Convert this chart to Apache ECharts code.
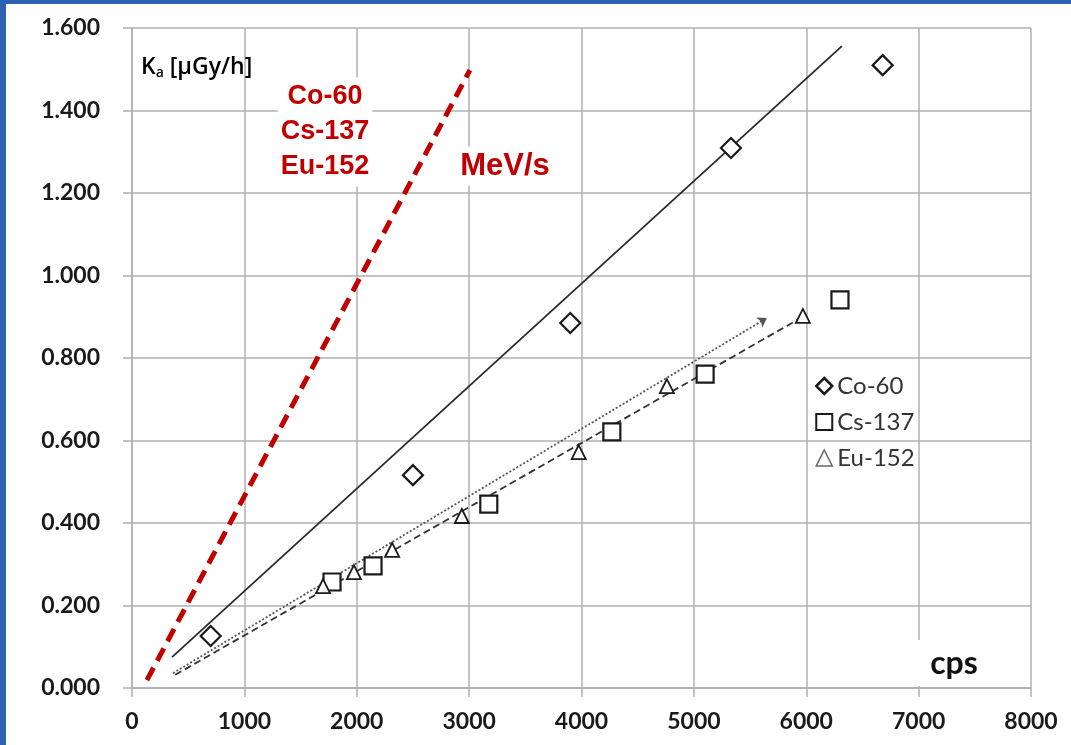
<!DOCTYPE html>
<html>
<head>
<meta charset="utf-8">
<script src="https://cdn.jsdelivr.net/npm/echarts@6/dist/echarts.min.js"></script>
<style>
  html, body { margin: 0; padding: 0; background: #fff; }
  #chart { width: 1071px; height: 745px; }
</style>
</head>
<body>
<div id="chart"></div>
<script>
  // measured points (cps vs air kerma rate)
  const coX = [700, 2500, 3900, 5330, 6680]
  const coY = [0.126, 0.516, 0.885, 1.309, 1.510]
  const csX = [1780, 2145, 3175, 4270, 5100, 6300]
  const csY = [0.257, 0.296, 0.446, 0.621, 0.761, 0.941]
  const euX = [1700, 1975, 2315, 2935, 3975, 4760, 5970]
  const euY = [0.247, 0.281, 0.335, 0.417, 0.572, 0.732, 0.902]

  // fit lines, [start, end]
  const coFit = [[356, 0.075], [6317, 1.556]]
  const csFit = [[385, 0.032], [5970, 0.900]]
  const euFit = [[365, 0.036], [5650, 0.897]]
  const mevLine = [[133, 0.019], [3007, 1.498]]

  const xTicks = { min: 0, max: 8000, step: 1000 }
  const yTicks = { min: 0, max: 1.6, step: 0.2 }

  const gridColor = '#b0b0b0'
  const red = '#c00000'

  const zip = (xs, ys) => xs.map((x, i) => [x, ys[i]])

  const chart = echarts.init(document.getElementById('chart'))
  chart.setOption({
    animation: false,
    grid: { left: 132, right: 40, top: 28, bottom: 57 },
    xAxis: {
      type: 'value',
      min: xTicks.min,
      max: xTicks.max,
      interval: xTicks.step,
      axisLine: { show: true, lineStyle: { color: gridColor, width: 1.5 } },
      axisTick: { show: true, length: 9, lineStyle: { color: gridColor, width: 1.5 } },
      splitLine: { show: true, lineStyle: { color: gridColor, width: 1.5 } },
      axisLabel: {
        margin: 22,
        fontFamily: 'Lato',
        fontWeight: 'bold',
        fontSize: 23,
        color: '#1a1a1a',
        formatter: v => String(v)
      }
    },
    yAxis: {
      type: 'value',
      min: yTicks.min,
      max: yTicks.max,
      interval: yTicks.step,
      axisLine: { show: true, lineStyle: { color: gridColor, width: 1.5 } },
      axisTick: { show: true, length: 9, lineStyle: { color: gridColor, width: 1.5 } },
      splitLine: { show: true, lineStyle: { color: gridColor, width: 1.5 } },
      axisLabel: {
        margin: 32,
        fontFamily: 'Lato',
        fontWeight: 'bold',
        fontSize: 23,
        color: '#1a1a1a',
        formatter: v => v.toFixed(3)
      }
    },
    legend: {
      orient: 'vertical',
      left: 810,
      top: 369,
      itemWidth: 16,
      itemHeight: 16,
      itemGap: 12,
      textStyle: { fontFamily: 'Lato', fontSize: 24, color: '#333', lineHeight: 24 },
      data: [
        { name: 'Co-60', icon: 'diamond', itemStyle: { borderWidth: 2.5 } },
        { name: 'Cs-137', icon: 'rect', itemStyle: { borderWidth: 2 } },
        { name: 'Eu-152', icon: 'triangle', itemStyle: { borderColor: '#666', borderWidth: 1.5 } }
      ]
    },
    graphic: [
      { type: 'rect', shape: { x: 0, y: 0, width: 6, height: 745 }, style: { fill: '#2f61b2' }, z: 10 },
      { type: 'rect', shape: { x: 0, y: 0, width: 1071, height: 4 }, style: { fill: '#2f61b2' }, z: 10 },
      { type: 'rect', shape: { x: 880, y: 640, width: 148, height: 46 }, style: { fill: '#fff' }, z: 1 },
      {
        type: 'text', z: 5, left: 141, top: 56,
        style: {
          text: '{k|K}{s|a}{k| [µGy/h]}',
          rich: {
            k: { fontFamily: 'Open Sans', fontWeight: 600, fontSize: 23, color: '#222' },
            s: { fontFamily: 'Open Sans', fontWeight: 600, fontSize: 14, color: '#222', padding: [12, 0, 0, 0] }
          }
        }
      },
      {
        type: 'text', z: 5, x: 325, y: 132,
        style: {
          text: 'Co-60\nCs-137\nEu-152',
          fontFamily: 'Liberation Sans',
          fontWeight: 'bold',
          fontSize: 27,
          lineHeight: 35,
          fill: red,
          align: 'center',
          verticalAlign: 'middle',
          backgroundColor: '#fff',
          padding: [2, 3]
        }
      },
      {
        type: 'text', z: 5, x: 505, y: 166,
        style: {
          text: 'MeV/s',
          fontFamily: 'Liberation Sans',
          fontWeight: 'bold',
          fontSize: 31,
          fill: red,
          align: 'center',
          verticalAlign: 'middle',
          backgroundColor: '#fff',
          padding: [4, 6]
        }
      },
      {
        type: 'text', z: 5, x: 954, y: 664,
        style: {
          text: 'cps',
          fontFamily: 'Lato',
          fontWeight: 'bold',
          fontSize: 32,
          fill: '#111',
          align: 'center',
          verticalAlign: 'middle'
        }
      }
    ],
    series: [
      {
        name: 'MeV/s line',
        type: 'line',
        data: mevLine,
        symbol: 'none',
        lineStyle: { color: red, width: 5, type: [14, 8] },
        z: 3
      },
      {
        name: 'Co-60 fit',
        type: 'line',
        data: coFit,
        symbol: 'none',
        lineStyle: { color: '#2a2a2a', width: 1.8 }
      },
      {
        name: 'Cs-137 fit',
        type: 'line',
        data: csFit,
        symbol: 'none',
        lineStyle: { color: '#333', width: 1.8, type: [7, 4] }
      },
      {
        name: 'Eu-152 fit',
        type: 'lines',
        coordinateSystem: 'cartesian2d',
        symbol: ['none', 'arrow'],
        symbolSize: 9,
        lineStyle: { color: '#555', width: 1.8, type: [2, 2], opacity: 1 },
        data: [{ coords: euFit }]
      },
      {
        name: 'Co-60',
        type: 'scatter',
        data: zip(coX, coY),
        symbol: 'diamond',
        symbolSize: 20,
        itemStyle: { color: '#fff', borderColor: '#1a1a1a', borderWidth: 2.2, opacity: 1 },
        z: 4
      },
      {
        name: 'Cs-137',
        type: 'scatter',
        data: zip(csX, csY),
        symbol: 'rect',
        symbolSize: 17,
        itemStyle: { color: '#fff', borderColor: '#1a1a1a', borderWidth: 2.2, opacity: 1 },
        z: 4
      },
      {
        name: 'Eu-152',
        type: 'scatter',
        data: zip(euX, euY),
        symbol: 'triangle',
        symbolSize: 14,
        itemStyle: { color: '#fff', borderColor: '#1a1a1a', borderWidth: 1.8, opacity: 1 },
        z: 4
      }
    ]
  })
</script>
</body>
</html>
